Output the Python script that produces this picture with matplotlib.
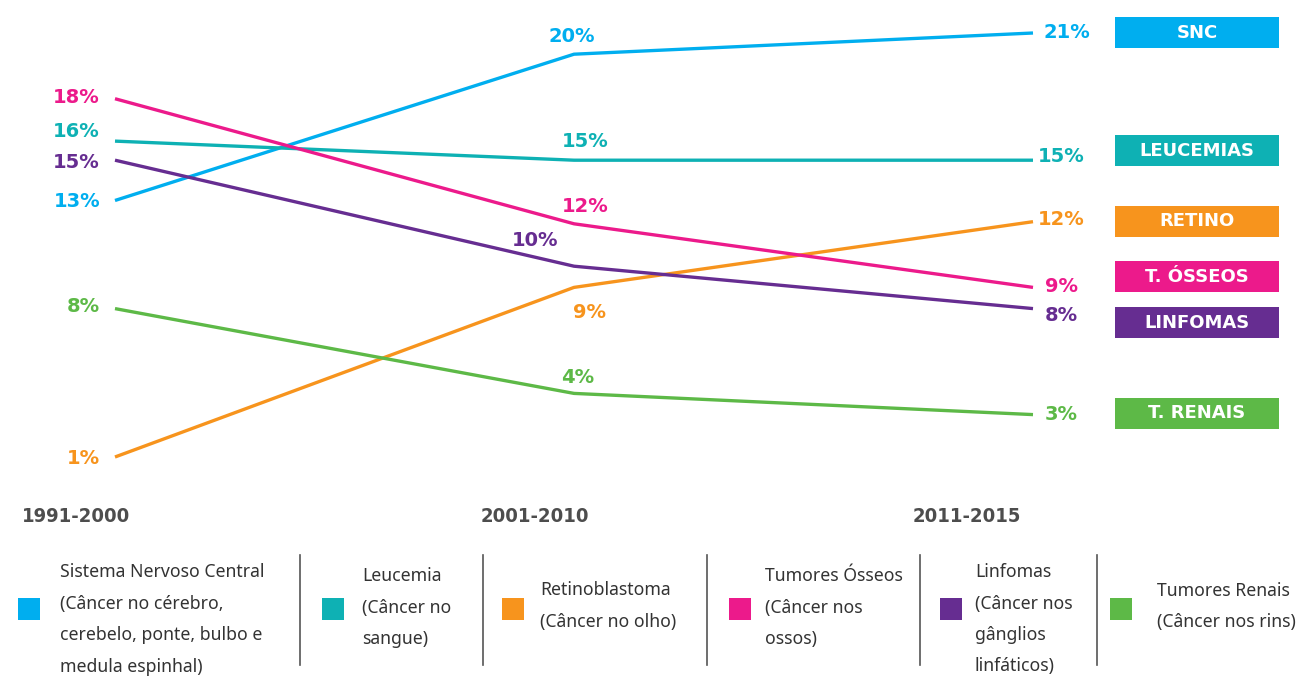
import matplotlib
matplotlib.use("Agg")
import matplotlib.pyplot as plt
from matplotlib.patches import Rectangle
from matplotlib.lines import Line2D

W, H = 1300, 677

periods = ["1991-2000", "2001-2010", "2011-2015"]
series_names = ["SNC", "LEUCEMIAS", "RETINO", "T. ÓSSEOS", "LINFOMAS", "T. RENAIS"]
snc = [13.1, 20.0, 21.0]
leucemia = [15.9, 15.0, 15.0]
retino = [1.0, 9.0, 12.1]
osseos = [17.9, 12.0, 9.0]
linfomas = [15.0, 10.0, 8.0]
renais = [8.0, 4.0, 3.0]
labels_pct = [
    ["13%", "20%", "21%"],
    ["16%", "15%", "15%"],
    ["1%", "9%", "12%"],
    ["18%", "12%", "9%"],
    ["15%", "10%", "8%"],
    ["8%", "4%", "3%"],
]
colors = ["#00AEEF", "#0EB1B4", "#F7941D", "#EC1A8B", "#662D91", "#5DB947"]
legend_texts = [
    ["Sistema Nervoso Central", "(Câncer no cérebro,", "cerebelo, ponte, bulbo e", "medula espinhal)"],
    ["Leucemia", "(Câncer no", "sangue)"],
    ["Retinoblastoma", "(Câncer no olho)"],
    ["Tumores Ósseos", "(Câncer nos", "ossos)"],
    ["Linfomas", "(Câncer nos", "gânglios", "linfáticos)"],
    ["Tumores Renais", "(Câncer nos rins)"],
]
series = [snc, leucemia, retino, osseos, linfomas, renais]

fig = plt.figure(figsize=(W / 100, H / 100), dpi=100)
fig.patch.set_facecolor("white")

def fx(px):
    return px / W

def fy(py):
    return 1 - py / H

# axes mapping: x 0..2 -> px 115..1033 ; value 0..22 -> px 478.2..11.8
ax = fig.add_axes([fx(115), fy(478.2), (1033 - 115) / W, (478.2 - 11.8) / H])
ax.set_xlim(0, len(periods) - 1)
ax.set_ylim(0, 22)
ax.axis("off")

xs = list(range(len(periods)))
for vals, c in zip(series, colors):
    ax.plot(xs, vals, color=c, lw=2.4, solid_capstyle="butt", clip_on=False)

PT = 0.72  # px -> pt
pct_font = dict(fontsize=14, fontweight="bold", family="DejaVu Sans")

left_off = [(-15, -1), (-15, 10), (-15, -1), (-15, 1), (-15, -2), (-15, 2)]
mid_off = [(-2, 18), (11, 19), (16, -25), (11, 17), (-39, 26), (4, 16)]
right_off = [(34, 0), (28, 4), (28, 2), (28, 1), (28, -7), (28, 0)]

for i, (vals, c) in enumerate(zip(series, colors)):
    lab = labels_pct[i]
    ax.annotate(lab[0], (xs[0], vals[0]), xytext=(left_off[i][0] * PT, left_off[i][1] * PT),
                textcoords="offset points", ha="right", va="center", color=c,
                annotation_clip=False, **pct_font)
    ax.annotate(lab[1], (xs[1], vals[1]), xytext=(mid_off[i][0] * PT, mid_off[i][1] * PT),
                textcoords="offset points", ha="center", va="center", color=c,
                annotation_clip=False, **pct_font)
    ax.annotate(lab[2], (xs[2], vals[2]), xytext=(right_off[i][0] * PT, right_off[i][1] * PT),
                textcoords="offset points", ha="center", va="center", color=c,
                annotation_clip=False, **pct_font)

box_top = [17, 135, 206, 261, 307, 398]
for name, c, top in zip(series_names, colors, box_top):
    r = Rectangle((fx(1115), fy(top + 31)), (1279 - 1115) / W, 31 / H,
                  transform=fig.transFigure, facecolor=c, edgecolor="none")
    fig.add_artist(r)
    fig.text(fx(1197), fy(top + 15.5), name, ha="center", va="center", color="white",
             fontsize=13, fontweight="bold", family="DejaVu Sans")

period_x = [76, 535, 967]
for p, x in zip(periods, period_x):
    fig.text(fx(x), fy(516), p, ha="center", va="center", color="#4D4D4D",
             fontsize=14.5, fontweight="bold", fontstretch="condensed",
             family="DejaVu Sans")

sq_x = [18, 322, 502, 729, 940, 1110]
txt_x = [60, 362, 540, 765, 975, 1157]
first_line = [572, 576, 590, 576, 572, 591]
line_gap = 31.5
for i in range(6):
    r = Rectangle((fx(sq_x[i]), fy(620)), 22 / W, 22 / H, transform=fig.transFigure,
                  facecolor=colors[i], edgecolor="none")
    fig.add_artist(r)
    for j, t in enumerate(legend_texts[i]):
        fig.text(fx(txt_x[i]), fy(first_line[i] + j * line_gap), t, ha="left", va="center",
                 color="#333333", fontsize=12.7, family="Noto Sans")

for sx in [300, 483, 707, 920, 1097]:
    fig.add_artist(Line2D([fx(sx), fx(sx)], [fy(555), fy(665)], transform=fig.transFigure,
                          color="#555555", lw=1.2))

fig.savefig("out.png", dpi=100, facecolor="white")
